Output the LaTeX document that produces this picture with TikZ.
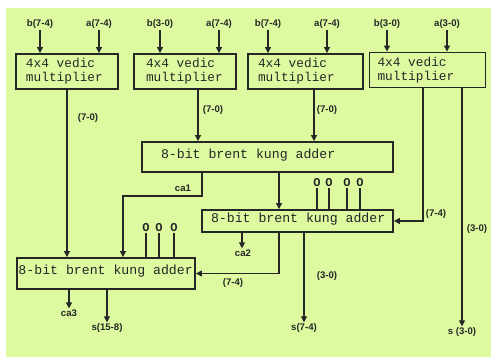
\documentclass[tikz,border=0pt]{standalone}
\usepackage{fontspec}
\setmainfont{Liberation Sans}
\newfontfamily\monofam{Liberation Mono}
\newcommand\mgap{\hspace*{0.6em}}
\usetikzlibrary{arrows.meta}
\definecolor{panel}{RGB}{221,250,160}
\definecolor{ink}{RGB}{38,38,38}
\begin{document}
\begin{tikzpicture}[x=1pt,y=-1pt,
  wire/.style={draw=ink, line width=1.3pt},
  arr/.style={wire, -{Triangle[width=6pt,length=6pt]}},
  blk/.style={draw=ink, line width=1.9pt, inner ysep=0pt, text=ink},
  mult/.style={blk, font=\monofam\fontsize{12.8}{14}\selectfont, align=left, minimum height=35pt},
  adder/.style={blk, font=\monofam\fontsize{13.2}{14}\selectfont, align=left, text height=7pt, text depth=5pt},
  lbl/.style={font=\bfseries\fontsize{9.6}{11}\selectfont, text=ink, inner sep=1pt},
  pin/.style={font=\monofam\bfseries\fontsize{12}{12}\selectfont, text=ink, inner sep=0.5pt}
]
\useasboundingbox (0,0) rectangle (491,357);
\fill[panel] (6,8) rectangle (491,357);

% multipliers
\node[mult, inner xsep=10pt, text width=82pt, minimum width=102pt] (m1) at (67,71.5) {4x4\mgap vedic\\multiplier};
\node[mult, inner xsep=12pt, text width=78pt, minimum width=102pt] (m2) at (185,71.5) {4x4\mgap vedic\\multiplier};
\node[mult, inner xsep=10pt, text width=95pt, minimum width=115pt] (m3) at (305.5,71.5) {4x4\mgap vedic\\multiplier};
\node[mult, inner xsep=8pt, text width=100pt, minimum width=116pt] (m4) at (427.5,70) {4x4\mgap vedic\\multiplier};

% adders
\node[adder, inner xsep=19pt, text width=213pt, minimum width=251pt, minimum height=30pt] (a1) at (267.5,157) {\mbox{8-bit\mgap brent\mgap kung\mgap adder}};
\node[adder, inner xsep=9pt, text width=173pt, minimum width=191pt, minimum height=22pt] (a2) at (297.5,221) {\mbox{8-bit\mgap brent\mgap kung\mgap adder}};
\node[adder, inner xsep=1.5pt, text width=175pt, minimum width=178pt, minimum height=31pt] (a3) at (106,273.5) {\mbox{8-bit\mgap brent\mgap kung\mgap adder}};

% operand inputs
\node[lbl] (i1b) at (40,24) {b(7-4)};
\node[lbl] (i1a) at (99,24) {a(7-4)};
\node[lbl] (i2b) at (160,24) {b(3-0)};
\node[lbl] (i2a) at (219,24) {a(7-4)};
\node[lbl] (i3b) at (268,24) {b(7-4)};
\node[lbl] (i3a) at (327,24) {a(7-4)};
\node[lbl] (i4b) at (387,24) {b(3-0)};
\node[lbl] (i4a) at (447,24) {a(3-0)};
\foreach \n/\m in {i1b/m1,i1a/m1,i2b/m2,i2a/m2,i3b/m3,i3a/m3,i4b/m4,i4a/m4}
  \draw[arr] (\n.south) -- (\n.south |- \m.north);

% multiplier outputs
\draw[arr] (m1.south) -- (m1.south |- a3.north);
\draw[arr] ([xshift=13pt]m2.south) -- ([xshift=13pt]m2.south |- a1.north);
\draw[arr] ([xshift=8.5pt]m3.south) -- ([xshift=8.5pt]m3.south |- a1.north);
\draw[arr] ([xshift=-4.5pt]m4.south) |- (a2.east);
\node[lbl] (s30) at (462,332) {s (3-0)};
\draw[arr] ([xshift=34.5pt]m4.south) -- (s30.north);

\node[lbl] (w1) at (88,118) {(7-0)};
\node[lbl] (w2) at (213,110) {(7-0)};
\node[lbl] (w3) at (327,110) {(7-0)};
\node[lbl] (w4) at (436,214) {(7-4)};
\node[lbl] (w5) at (477,229) {(3-0)};

% first adder outputs
\coordinate (ca1bend) at (123,196);
\draw[arr] ([xshift=-65.5pt]a1.south) |- (ca1bend) -- (ca1bend |- a3.north);
\node[lbl] (ca1) at (183,188) {ca1};
\draw[arr] ([xshift=11.5pt]a1.south) -- ([xshift=11.5pt]a1.south |- a2.north);

% zero pins
\foreach \k/\x in {1/317,2/329,3/347,4/360}{
  \node[pin] (p\k) at (\x,183) {O};
  \draw[wire] (p\k.south) -- (p\k.south |- a2.north);
}
\foreach \k/\x in {1/146,2/159,3/174}{
  \node[pin] (q\k) at (\x,228) {O};
  \draw[wire] (q\k.south) -- (q\k.south |- a3.north);
}

% second adder outputs
\node[lbl] (ca2) at (243,253) {ca2};
\draw[arr] ([xshift=-55.5pt]a2.south) -- ([xshift=-55.5pt]a2.south |- ca2.north);
\draw[arr] ([xshift=-18.5pt]a2.south) |- (a3.east);
\node[lbl] (w6) at (233,283) {(7-4)};
\node[lbl] (s74) at (304,328) {s(7-4)};
\draw[arr] ([xshift=6.5pt]a2.south) -- (s74.north);
\node[lbl] (w7) at (327,276) {(3-0)};

% third adder outputs
\node[lbl] (ca3) at (69,313) {ca3};
\draw[arr] ([xshift=-37pt]a3.south) -- ([xshift=-37pt]a3.south |- ca3.north);
\node[lbl] (s158) at (107,328) {s(15-8)};
\draw[arr] ([xshift=1pt]a3.south) -- (s158.north);
\end{tikzpicture}
\end{document}
